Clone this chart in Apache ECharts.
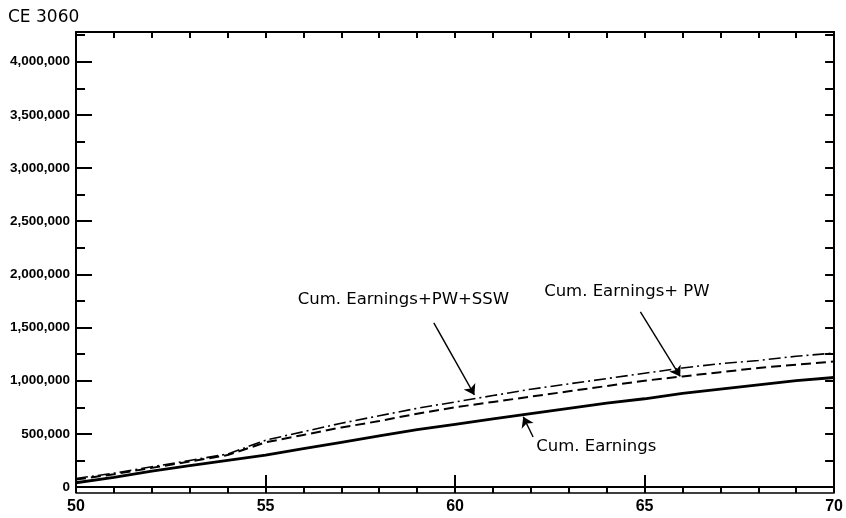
<!DOCTYPE html>
<html>
<head>
<meta charset="utf-8">
<script src="https://cdn.jsdelivr.net/npm/echarts@6/dist/echarts.min.js"></script>
<style>
  html, body { margin: 0; padding: 0; background: #fff; }
  #chart { width: 846px; height: 518px; }
</style>
</head>
<body>
<div id="chart"></div>
<script>
// Age (years) along the horizontal axis
const years = [50, 51, 52, 53, 54, 55, 56, 57, 58, 59, 60, 61, 62, 63, 64, 65, 66, 67, 68, 69, 70];

// Cumulative earnings, dollars
const cumEarnings = [40000, 90000, 150000, 200000, 250000, 300000, 360000, 420000, 480000, 540000, 590000,
  640000, 690000, 740000, 790000, 830000, 880000, 920000, 960000, 1000000, 1030000];

// Cumulative earnings + pension wealth
const cumEarningsPW = [70000, 120000, 180000, 240000, 300000, 420000, 490000, 560000, 620000, 690000, 750000,
  800000, 850000, 900000, 950000, 1000000, 1040000, 1080000, 1120000, 1150000, 1180000];

// Cumulative earnings + pension wealth + social security wealth
const cumEarningsPWSSW = [80000, 130000, 190000, 250000, 310000, 440000, 520000, 600000, 670000, 740000, 800000,
  860000, 920000, 970000, 1020000, 1070000, 1120000, 1160000, 1190000, 1230000, 1260000];

const seriesNames = ['Cum. Earnings', 'Cum. Earnings+ PW', 'Cum. Earnings+PW+SSW'];

// Callout texts, their anchor points and arrow endpoints (data coordinates)
const calloutTexts = ['Cum. Earnings', 'Cum. Earnings+ PW', 'Cum. Earnings+PW+SSW'];
const calloutAnchors = [[62.14, 376000], [62.35, 1835000], [55.85, 1760000]];
const arrowTails = [[62.06, 470000], [64.89, 1647000], [59.44, 1543000]];
const arrowTips = [[61.8, 660000], [65.94, 1040000], [60.51, 866000]];

const chartTitle = 'CE 3060';
const yMax = 4280000;

const ink = '#000';
const numFont = 'Liberation Sans';
const textFont = 'DejaVu Sans';

function pairs(values) {
  return years.map((y, i) => [y, values[i]]);
}

function callout(i) {
  return {
    markLine: {
      silent: true,
      animation: false,
      symbol: ['none', 'arrow'],
      symbolSize: 10,
      lineStyle: { color: ink, width: 1.4, type: 'solid' },
      label: { show: false },
      data: [[{ coord: arrowTails[i] }, { coord: arrowTips[i] }]]
    },
    markPoint: {
      silent: true,
      animation: false,
      symbol: 'circle',
      symbolSize: 0,
      label: {
        show: true,
        position: 'right',
        distance: 0,
        color: ink,
        fontFamily: textFont,
        fontSize: 16.5,
        formatter: calloutTexts[i]
      },
      data: [{ coord: calloutAnchors[i] }]
    }
  };
}

const lineStyles = [
  { color: ink, width: 2.8, type: 'solid' },
  { color: ink, width: 2, type: [10, 5] },
  { color: ink, width: 1.6, type: [12, 4, 2, 4] }
];
const seriesData = [cumEarnings, cumEarningsPW, cumEarningsPWSSW];

const series = seriesData.map((vals, i) => Object.assign({
  name: seriesNames[i],
  type: 'line',
  xAxisIndex: 0,
  yAxisIndex: 0,
  symbol: 'none',
  smooth: false,
  lineStyle: lineStyles[i],
  data: pairs(vals)
}, callout(i)));

const xBase = { type: 'value', min: 50, max: 70, splitLine: { show: false }, axisLine: { onZero: false } };
const yBase = { type: 'value', min: 0, max: yMax, splitLine: { show: false }, axisLine: { onZero: false } };

const option = {
  animation: false,
  backgroundColor: '#fff',
  title: {
    text: chartTitle,
    left: 3,
    top: 4,
    textStyle: { color: ink, fontFamily: textFont, fontSize: 17, fontWeight: 'normal' }
  },
  grid: { left: 76, right: 6, top: 32, bottom: 31 },
  xAxis: [
    Object.assign({}, xBase, {
      position: 'bottom', interval: 5,
      axisLine: { show: true, onZero: false, lineStyle: { color: ink, width: 2 } },
      axisTick: { show: true, inside: true, length: 12, lineStyle: { color: ink, width: 2 } },
      axisLabel: { color: ink, fontFamily: numFont, fontSize: 16, fontWeight: 'bold', margin: 12 }
    }),
    Object.assign({}, xBase, {
      position: 'bottom', interval: 1,
      axisLine: { show: false, onZero: false },
      axisTick: { show: true, inside: false, length: 6, lineStyle: { color: ink, width: 2 } },
      axisLabel: { show: false }
    }),
    Object.assign({}, xBase, {
      position: 'bottom', offset: 6,
      axisLine: { show: true, onZero: false, lineStyle: { color: ink, width: 1.5 } },
      axisTick: { show: false },
      axisLabel: { show: false }
    }),
    Object.assign({}, xBase, {
      position: 'top', interval: 1,
      axisLine: { show: true, onZero: false, lineStyle: { color: ink, width: 2 } },
      axisTick: { show: true, inside: true, length: 6, lineStyle: { color: ink, width: 2 } },
      axisLabel: { show: false }
    })
  ],
  yAxis: [
    Object.assign({}, yBase, {
      position: 'left', interval: 500000,
      axisLine: { show: true, onZero: false, lineStyle: { color: ink, width: 2 } },
      axisTick: { show: true, inside: true, length: 16, lineStyle: { color: ink, width: 2 } },
      axisLabel: {
        color: ink, fontFamily: numFont, fontSize: 13.5, fontWeight: 'bold', margin: 6,
        formatter: v => (v % 500000 === 0 ? v.toLocaleString('en-US') : '')
      }
    }),
    Object.assign({}, yBase, {
      position: 'left', interval: 250000,
      axisLine: { show: false, onZero: false },
      axisTick: { show: true, inside: true, length: 9, lineStyle: { color: ink, width: 2 } },
      axisLabel: { show: false }
    }),
    Object.assign({}, yBase, {
      position: 'right', interval: 250000,
      axisLine: { show: true, onZero: false, lineStyle: { color: ink, width: 2 } },
      axisTick: { show: true, inside: true, length: 9, lineStyle: { color: ink, width: 2 } },
      axisLabel: { show: false }
    })
  ],
  series: series
};

const chart = echarts.init(document.getElementById('chart'), null, { renderer: 'canvas' });
chart.setOption(option);
</script>
</body>
</html>
